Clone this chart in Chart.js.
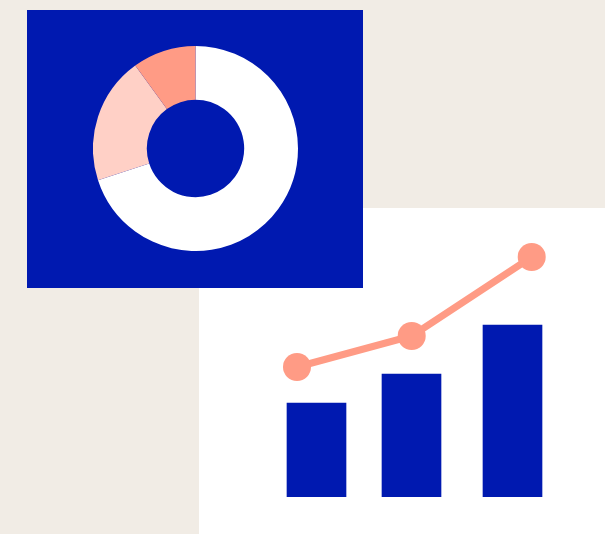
<!DOCTYPE html>
<html>
<head>
<meta charset="utf-8">
<script src="https://cdn.jsdelivr.net/npm/chart.js@4"></script>
<style>
  html, body { margin: 0; padding: 0; }
  body { width: 605px; height: 534px; background: #f1ece5; position: relative; overflow: hidden; }
  #whitePanel { position: absolute; left: 199px; top: 208px; width: 406px; height: 326px; background: #fff; }
  #bluePanel { position: absolute; left: 27px; top: 10px; width: 336px; height: 278px; background: #0019b0; }
  #donut { position: absolute; left: 93px; top: 46px; }
  #combo { position: absolute; left: 216px; top: 208px; }
</style>
</head>
<body>
<div id="whitePanel"></div>
<div id="bluePanel"></div>
<canvas id="donut" width="205" height="205"></canvas>
<canvas id="combo" width="389" height="326"></canvas>
<script>
// donut shares
const donutLabels = ['A', 'B', 'C'];
const donutValues = [70, 20, 10];
const donutColors = ['#ffffff', '#ffd0c6', '#ff9b85'];

// bars (x position on a linear axis, height)
const barX = [1.005, 1.955, 2.965];
const barValues = [47, 61.5, 86];

// trend line
const lineX = [0.81, 1.957, 3.157];
const lineValues = [65, 80.5, 120];

const BLUE = '#0019b0';
const SALMON = '#ff9b85';

new Chart(document.getElementById('donut'), {
  type: 'doughnut',
  data: {
    labels: donutLabels,
    datasets: [{
      data: donutValues,
      backgroundColor: donutColors,
      borderWidth: 0
    }]
  },
  options: {
    responsive: false,
    animation: false,
    cutout: '47.5%',
    layout: { padding: 0 },
    plugins: { legend: { display: false }, tooltip: { enabled: false } }
  }
});

new Chart(document.getElementById('combo'), {
  data: {
    datasets: [
      {
        type: 'line',
        data: lineX.map((x, i) => ({ x: x, y: lineValues[i] })),
        borderColor: SALMON,
        backgroundColor: SALMON,
        borderWidth: 7,
        pointRadius: 14,
        pointBorderWidth: 0,
        tension: 0,
        clip: false,
        order: 0
      },
      {
        type: 'bar',
        data: barX.map((x, i) => ({ x: x, y: barValues[i] })),
        backgroundColor: BLUE,
        borderWidth: 0,
        barThickness: 59,
        order: 1
      }
    ]
  },
  options: {
    responsive: false,
    animation: false,
    layout: { autoPadding: false, padding: { top: 9, bottom: 37, left: 0, right: 0 } },
    scales: {
      x: { type: 'linear', min: 0, max: 3.89, offset: false, display: false },
      y: { min: 0, max: 140, display: false }
    },
    plugins: { legend: { display: false }, tooltip: { enabled: false } }
  }
});
</script>
</body>
</html>
